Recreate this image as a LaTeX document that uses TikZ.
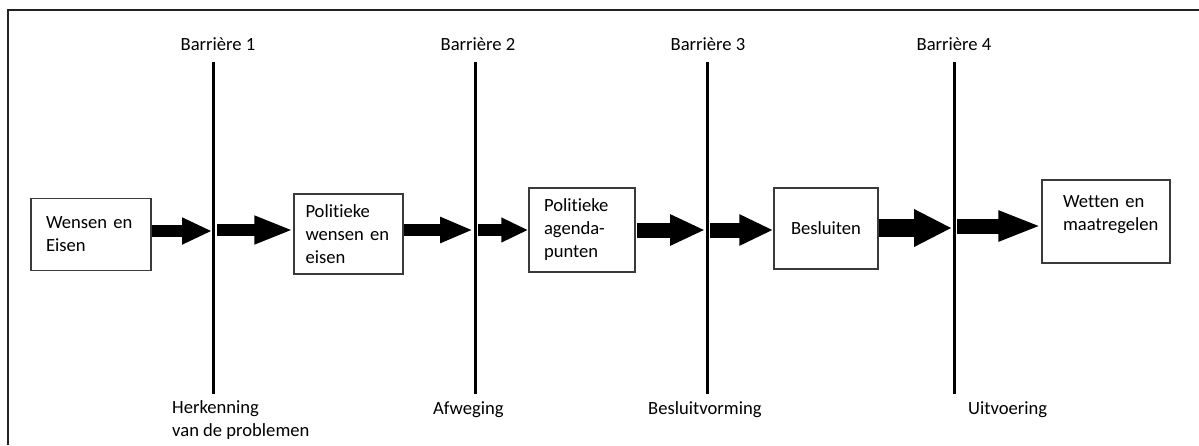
\documentclass[tikz,border=0pt]{standalone}
\usepackage{fontspec}
\setmainfont{Carlito}[Ligatures={NoCommon}]
\usetikzlibrary{arrows.meta}
\definecolor{boxline}{HTML}{3A3A3A}
\definecolor{frameline}{HTML}{222222}
\tikzset{
  lbl/.style={font=\fontsize{18.6}{23}\selectfont, inner sep=0pt, text=black},
  stage/.style={lbl, draw=boxline, line width=1.4pt, rectangle, align=left},
  barrier/.style={line width=3pt, black},
  blk/.style={line width=#1, black},
}
\begin{document}
\begin{tikzpicture}[x=1pt,y=-1pt]
\useasboundingbox (0,0) rectangle (1199,445);
% frame
\draw[frameline, line width=2pt] (8,445) -- (8,10) -- (1199,10);

% barriers
\foreach \i/\x in {1/213,2/475,3/707,4/954}{
  \coordinate (b\i top) at (\x,62);
  \coordinate (b\i bot) at (\x,394);
  \draw[barrier] (b\i top) -- (b\i bot);
}
\node[lbl] (t1) at (218,44) {Barrière 1};
\node[lbl] (t2) at (478,44) {Barrière 2};
\node[lbl] (t3) at (708,44) {Barrière 3};
\node[lbl] (t4) at (954,44) {Barrière 4};

\node[lbl, anchor=base west, align=left] (u1) at (172,436) {Herkenning\\van de problemen};
\node[lbl, anchor=base west] (u2) at (433,414) {Afweging};
\node[lbl, anchor=base west] (u3) at (648,414) {Besluitvorming};
\node[lbl, anchor=base west] (u4) at (968,414) {Uitvoering};

% boxes
\node[stage, minimum width=120pt, minimum height=72pt, text width=90pt] (s1) at (91,234.5) {Wensen en\\Eisen};
\node[stage, minimum width=109pt, minimum height=80pt, text width=86pt] (s2) at (348.5,234) {Politieke\\wensen en\\eisen};
\node[stage, minimum width=106pt, minimum height=84pt, text width=76pt] (s3) at (582,230) {Politieke\\agenda-\\punten};
\node[stage, minimum width=104pt, minimum height=81pt] (s4) at (826,228.5) {Besluiten};
\node[stage, minimum width=128pt, minimum height=83pt] (s5) at (1106,221.5) {};
\node[lbl, align=left, text width=88pt] (s5t) at (1107,215) {Wetten en\\maatregelen};

% block arrows
\coordinate (a1s) at (152,231); \coordinate (a1e) at (212,231);
\draw[blk=12pt, -{Triangle[length=30pt,width=25pt]}] (a1s) -- (a1e);
\coordinate (a2s) at (217,230); \coordinate (a2e) at (s2.west |- a2s);
\draw[blk=12pt, -{Triangle[length=39pt,width=26pt]}] (a2s) -- (a2e);
\coordinate (a3s) at (s2.east |- 0,230); \coordinate (a3e) at (473,230);
\draw[blk=12pt, -{Triangle[length=33pt,width=24pt]}] (a3s) -- (a3e);
\coordinate (a4s) at (478,230); \coordinate (a4e) at (s3.west |- a4s);
\draw[blk=12pt, -{Triangle[length=27pt,width=23pt]}] (a4s) -- (a4e);
\coordinate (a5s) at (637,230); \coordinate (a5e) at (705,230);
\draw[blk=15pt, -{Triangle[length=35pt,width=29pt]}] (a5s) -- (a5e);
\coordinate (a6s) at (710,230); \coordinate (a6e) at (s4.west |- a6s);
\draw[blk=15pt, -{Triangle[length=34pt,width=29pt]}] (a6s) -- (a6e);
\coordinate (a7s) at (s4.east |- 0,228); \coordinate (a7e) at (952,228);
\draw[blk=18pt, -{Triangle[length=38pt,width=35pt]}] (a7s) -- (a7e);
\coordinate (a8s) at (957,226); \coordinate (a8e) at (s5.west |- a8s);
\draw[blk=15pt, -{Triangle[length=43pt,width=28pt]}] (a8s) -- (a8e);
\end{tikzpicture}
\end{document}
